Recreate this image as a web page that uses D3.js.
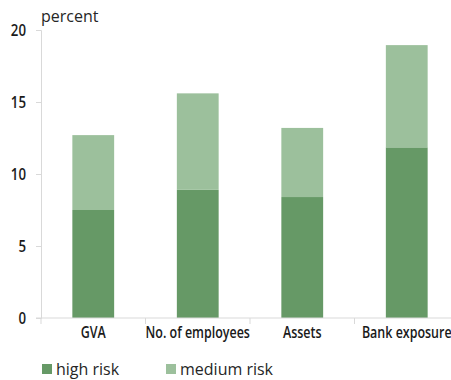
<!DOCTYPE html>
<html>
<head>
<meta charset="utf-8">
<script src="https://cdn.jsdelivr.net/npm/d3@7"></script>
<style>
  html, body { margin: 0; padding: 0; background: #fff; }
  svg { display: block; }
  .tick-label { font-family: "Open Sans", "Noto Sans", sans-serif; font-weight: 600; fill: #1a1a1a; }
  .plain { font-family: "Open Sans", "Noto Sans", sans-serif; fill: #262626; }
</style>
</head>
<body>
<script>
// Share of firms by risk class, stacked per measure
const categories = ["GVA", "No. of employees", "Assets", "Bank exposure"];
const highRisk = [7.5, 8.9, 8.4, 11.85];
const mediumRisk = [5.2, 6.7, 4.8, 7.1];
const seriesNames = ["high risk", "medium risk"];
const seriesColors = ["#669966", "#9cc09c"];
const yTicks = [0, 5, 10, 15, 20];

const width = 451, height = 380;
const margin = { left: 41, top: 30, bottom: 62, right: -8 };
const narrow = 0.78; // horizontal squeeze for the condensed label face

const svg = d3.select("body").append("svg")
  .attr("width", width).attr("height", height);

const x = d3.scaleBand()
  .domain(categories)
  .range([margin.left, width - margin.right])
  .paddingInner(0.6).paddingOuter(0.3);

const y = d3.scaleLinear()
  .domain([0, 20])
  .range([height - margin.bottom, margin.top]);

const rows = categories.map((c, i) => ({ cat: c, "high risk": highRisk[i], "medium risk": mediumRisk[i] }));
const stacked = d3.stack().keys(seriesNames)(rows);

// stacked bars
svg.append("g").selectAll("g")
  .data(stacked).join("g")
  .attr("fill", (d, i) => seriesColors[i])
  .selectAll("rect")
  .data(d => d).join("rect")
  .attr("x", d => x(d.data.cat))
  .attr("width", x.bandwidth())
  .attr("y", d => y(d[1]))
  .attr("height", d => y(d[0]) - y(d[1]));

// y axis
const yAxis = svg.append("g")
  .attr("transform", `translate(${margin.left},0)`)
  .call(d3.axisLeft(y).tickValues(yTicks).tickSize(5));
yAxis.select(".domain").attr("stroke", "#d9d9d9");
yAxis.selectAll(".tick line").attr("stroke", "#d9d9d9");
yAxis.selectAll(".tick text")
  .attr("class", "tick-label")
  .attr("x", 0)
  .attr("transform", `translate(-15,0) scale(${narrow},1)`)
  .style("font-size", "17px");

// x axis with boundary ticks between categories
const xAxisY = y(0);
const step = x.step();
const bounds = d3.range(categories.length).map(i => margin.left + i * step);
const xg = svg.append("g");
xg.append("line")
  .attr("x1", margin.left - 5).attr("x2", width)
  .attr("y1", xAxisY).attr("y2", xAxisY)
  .attr("stroke", "#d9d9d9");
xg.selectAll(".bt").data(bounds).join("line")
  .attr("x1", d => d).attr("x2", d => d)
  .attr("y1", xAxisY).attr("y2", xAxisY + 6)
  .attr("stroke", "#d9d9d9");
xg.selectAll("text").data(categories).join("text")
  .attr("class", "tick-label")
  .attr("transform", d => `translate(${x(d) + x.bandwidth() / 2},${xAxisY + 20}) scale(${narrow},1)`)
  .attr("text-anchor", "middle")
  .style("font-size", "16px")
  .text(d => d);

// unit label
svg.append("text").attr("class", "plain")
  .attr("x", margin.left).attr("y", 22)
  .style("font-size", "16px")
  .text("percent");

// legend
const legendX = [42, 166];
const lg = svg.append("g").selectAll("g")
  .data(seriesNames).join("g")
  .attr("transform", (d, i) => `translate(${legendX[i]},364)`);
lg.append("rect").attr("width", 10).attr("height", 10)
  .attr("fill", (d, i) => seriesColors[i]);
lg.append("text").attr("class", "plain")
  .attr("x", 14).attr("y", 11)
  .style("font-size", "16px")
  .text(d => d);
</script>
</body>
</html>
